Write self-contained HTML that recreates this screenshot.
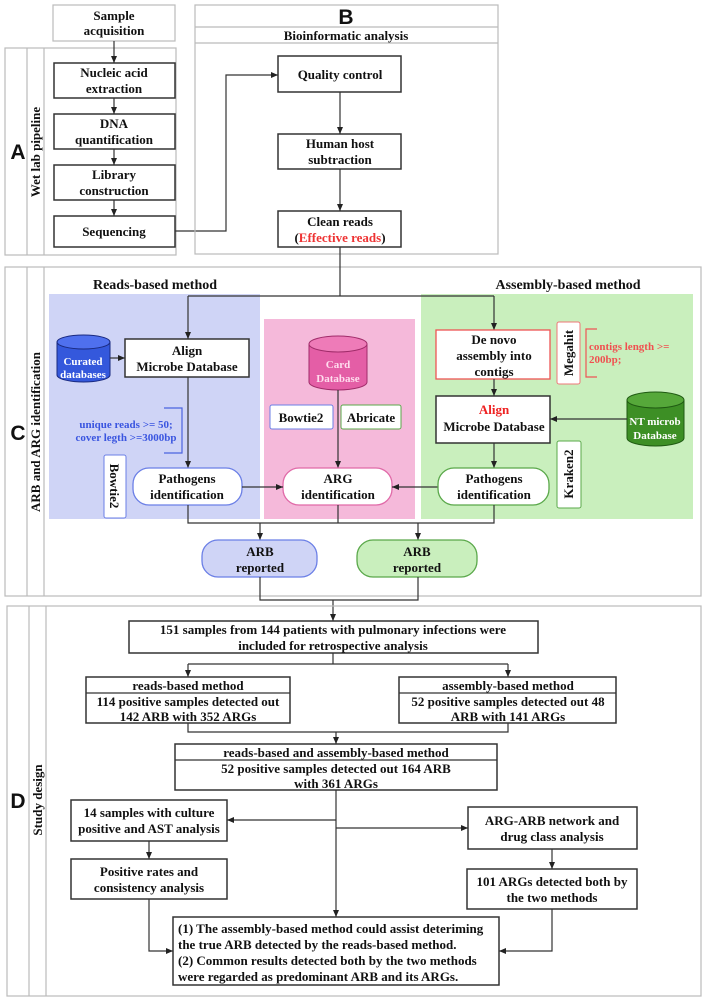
<!DOCTYPE html>
<html><head><meta charset="utf-8"><style>
html,body{margin:0;padding:0;background:#fff}
svg{display:block}
text{font-family:"Liberation Serif",serif;font-weight:bold;font-size:13px;fill:#111;text-anchor:middle}
.L{font-family:"Liberation Sans",sans-serif;font-size:21px}
.b{fill:#fff;stroke:#333;stroke-width:1.5}
.g{fill:none;stroke:#bbb;stroke-width:1.2}
.ln{fill:none;stroke:#333;stroke-width:1.2}
</style></head><body>
<svg width="703" height="1000" viewBox="0 0 703 1000" xmlns="http://www.w3.org/2000/svg">
<defs><marker id="a" markerWidth="8" markerHeight="8" refX="7" refY="4" orient="auto" markerUnits="userSpaceOnUse"><path d="M0,1 L7,4 L0,7z" fill="#222"/></marker></defs>

<!-- A -->
<rect x="53" y="5" width="122" height="36" class="g"/>
<text x="114" y="20">Sample</text><text x="114" y="35">acquisition</text>
<rect x="5" y="48" width="171" height="207" class="g"/>
<line x1="27" y1="48" x2="27" y2="255" class="g"/><line x1="44" y1="48" x2="44" y2="255" class="g"/>
<text class="L" x="18" y="159">A</text>
<text x="0" y="0" transform="translate(40,152) rotate(-90)">Wet lab pipeline</text>
<rect x="54" y="63" width="121" height="35" class="b"/><text x="114" y="77">Nucleic acid</text><text x="114" y="93">extraction</text>
<rect x="54" y="114" width="121" height="35" class="b"/><text x="114" y="128">DNA</text><text x="114" y="144">quantification</text>
<rect x="54" y="165" width="121" height="35" class="b"/><text x="114" y="179">Library</text><text x="114" y="195">construction</text>
<rect x="54" y="216" width="121" height="31" class="b"/><text x="114" y="236">Sequencing</text>
<line x1="114" y1="41" x2="114" y2="63" class="ln" marker-end="url(#a)"/>
<line x1="114" y1="98" x2="114" y2="114" class="ln" marker-end="url(#a)"/>
<line x1="114" y1="149" x2="114" y2="165" class="ln" marker-end="url(#a)"/>
<line x1="114" y1="200" x2="114" y2="216" class="ln" marker-end="url(#a)"/>
<path d="M175,231 H226 V75 H278" class="ln" marker-end="url(#a)"/>

<!-- B -->
<rect x="195" y="5" width="303" height="249" class="g"/>
<line x1="195" y1="27" x2="498" y2="27" class="g"/><line x1="195" y1="43" x2="498" y2="43" class="g"/>
<text class="L" x="346" y="24">B</text>
<text x="346" y="40">Bioinformatic analysis</text>
<rect x="278" y="56" width="123" height="36" class="b"/><text x="340" y="79">Quality control</text>
<rect x="278" y="134" width="123" height="35" class="b"/><text x="340" y="148">Human host</text><text x="340" y="164">subtraction</text>
<rect x="278" y="211" width="123" height="36" class="b"/><text x="340" y="226">Clean reads</text>
<text x="340" y="242">(<tspan fill="#e33">Effective reads</tspan>)</text>
<line x1="340" y1="92" x2="340" y2="134" class="ln" marker-end="url(#a)"/>
<line x1="340" y1="169" x2="340" y2="211" class="ln" marker-end="url(#a)"/>

<!-- C -->
<rect x="5" y="267" width="696" height="329" class="g"/>
<line x1="27" y1="267" x2="27" y2="596" class="g"/><line x1="44" y1="267" x2="44" y2="596" class="g"/>
<text class="L" x="18" y="440">C</text>
<text x="0" y="0" transform="translate(40,432) rotate(-90)">ARB and ARG identification</text>
<text x="155" y="289" style="font-size:14px">Reads-based method</text>
<text x="568" y="289" style="font-size:14px">Assembly-based method</text>
<rect x="49" y="294" width="211" height="225" fill="#cfd4f6"/>
<rect x="264" y="319" width="151" height="200" fill="#f5b9da"/>
<rect x="421" y="294" width="272" height="225" fill="#c9efbd"/>
<path d="M340,247 V296" class="ln"/>
<path d="M188,296 H494" class="ln"/>
<line x1="188" y1="296" x2="188" y2="339" class="ln" marker-end="url(#a)"/>
<line x1="494" y1="296" x2="494" y2="330" class="ln" marker-end="url(#a)"/>

<!-- curated cylinder -->
<path d="M57,342 V375 A26.5,7 0 0 0 110,375 V342" fill="#3458dc" stroke="#1a2a80"/>
<ellipse cx="83.5" cy="342" rx="26.5" ry="7" fill="#4f70ee" stroke="#1a2a80"/>
<text x="83" y="365" style="fill:#fff;font-size:11px">Curated</text><text x="83" y="378" style="fill:#fff;font-size:11px">databases</text>
<line x1="110" y1="358" x2="125" y2="358" class="ln" marker-end="url(#a)"/>
<rect x="125" y="339" width="124" height="38" class="b"/><text x="187" y="355">Align</text><text x="187" y="371">Microbe Database</text>
<line x1="188" y1="377" x2="188" y2="468" class="ln" marker-end="url(#a)"/>
<path d="M164,408 H182 V453 H164" fill="none" stroke="#4b63e0" stroke-width="1.2"/>
<text x="126" y="428" style="fill:#3a55e0;font-size:11px">unique reads &gt;= 50;</text>
<text x="126" y="441" style="fill:#3a55e0;font-size:11px">cover legth &gt;=3000bp</text>
<rect x="104" y="455" width="22" height="63" rx="2" fill="#fff" stroke="#6b7fe6"/>
<text x="0" y="0" transform="translate(110,486) rotate(90)">Bowtie2</text>
<rect x="133" y="468" width="109" height="37" rx="16" fill="#fff" stroke="#6b7fe6" stroke-width="1.3"/>
<text x="187" y="483">Pathogens</text><text x="187" y="499">identification</text>

<!-- card -->
<path d="M309,344 V382 A29,8 0 0 0 367,382 V344" fill="#e45ea6" stroke="#a02c6a"/>
<ellipse cx="338" cy="344" rx="29" ry="8" fill="#ee7bb8" stroke="#a02c6a"/>
<text x="338" y="368" style="fill:#fde;font-size:11px">Card</text><text x="338" y="382" style="fill:#fde;font-size:11px">Database</text>
<rect x="270" y="405" width="63" height="24" rx="2" fill="#fff" stroke="#6b7fe6"/><text x="301" y="422">Bowtie2</text>
<rect x="341" y="405" width="60" height="24" rx="2" fill="#fff" stroke="#5aa84a"/><text x="371" y="422">Abricate</text>
<line x1="338" y1="390" x2="338" y2="468" class="ln" marker-end="url(#a)"/>
<rect x="283" y="468" width="109" height="37" rx="16" fill="#fff" stroke="#e06aa8" stroke-width="1.3"/>
<text x="338" y="483">ARG</text><text x="338" y="499">identification</text>
<line x1="242" y1="487" x2="283" y2="487" class="ln" marker-end="url(#a)"/>
<line x1="438" y1="487" x2="392" y2="487" class="ln" marker-end="url(#a)"/>

<!-- assembly -->
<rect x="436" y="330" width="114" height="49" fill="#fff" stroke="#e55" stroke-width="1.3"/>
<text x="494" y="344">De novo</text><text x="494" y="360">assembly into</text><text x="494" y="376">contigs</text>
<rect x="557" y="322" width="23" height="62" rx="2" fill="#fff" stroke="#e77"/>
<text x="0" y="0" transform="translate(573,353) rotate(-90)">Megahit</text>
<path d="M597,329 H586 V377 H597" fill="none" stroke="#e55" stroke-width="1.2"/>
<text x="589" y="350" style="fill:#f05050;font-size:11px;text-anchor:start">contigs length &gt;=</text>
<text x="589" y="363" style="fill:#f05050;font-size:11px;text-anchor:start">200bp;</text>
<line x1="494" y1="379" x2="494" y2="396" class="ln" marker-end="url(#a)"/>
<rect x="436" y="396" width="114" height="47" class="b"/>
<text x="494" y="414" style="fill:#e22">Align</text><text x="494" y="431">Microbe Database</text>
<path d="M627,400 V438 A28.5,8 0 0 0 684,438 V400" fill="#3d8f25" stroke="#1f5a12"/>
<ellipse cx="655.5" cy="400" rx="28.5" ry="8" fill="#56a83a" stroke="#1f5a12"/>
<text x="655" y="425" style="fill:#fff;font-size:11px">NT microb</text><text x="655" y="439" style="fill:#fff;font-size:11px">Database</text>
<line x1="627" y1="419" x2="550" y2="419" class="ln" marker-end="url(#a)"/>
<rect x="557" y="441" width="24" height="67" rx="2" fill="#fff" stroke="#5aa84a"/>
<text x="0" y="0" transform="translate(573,474) rotate(-90)">Kraken2</text>
<line x1="494" y1="443" x2="494" y2="468" class="ln" marker-end="url(#a)"/>
<rect x="438" y="468" width="111" height="37" rx="16" fill="#fff" stroke="#5aa84a" stroke-width="1.3"/>
<text x="494" y="483">Pathogens</text><text x="494" y="499">identification</text>

<path d="M188,505 V523 H494 V505" class="ln"/>
<line x1="338" y1="505" x2="338" y2="523" class="ln"/>
<line x1="260" y1="523" x2="260" y2="540" class="ln" marker-end="url(#a)"/>
<line x1="418" y1="523" x2="418" y2="540" class="ln" marker-end="url(#a)"/>
<rect x="202" y="540" width="115" height="37" rx="16" fill="#cfd4f6" stroke="#6b7fe6" stroke-width="1.3"/>
<text x="260" y="556">ARB</text><text x="260" y="572">reported</text>
<rect x="357" y="540" width="120" height="37" rx="16" fill="#c9efbd" stroke="#5aa84a" stroke-width="1.3"/>
<text x="417" y="556">ARB</text><text x="417" y="572">reported</text>
<path d="M260,577 V600 H418 V577" class="ln"/>
<line x1="333" y1="600" x2="333" y2="621" class="ln" marker-end="url(#a)"/>

<!-- D -->
<rect x="7" y="606" width="694" height="390" class="g"/>
<line x1="29" y1="606" x2="29" y2="996" class="g"/><line x1="46" y1="606" x2="46" y2="996" class="g"/>
<text class="L" x="18" y="808">D</text>
<text x="0" y="0" transform="translate(42,800) rotate(-90)">Study design</text>
<rect x="129" y="621" width="409" height="32" class="b"/>
<text x="333" y="634">151 samples from 144 patients with pulmonary infections were</text>
<text x="333" y="650">included for retrospective analysis</text>
<path d="M333,653 V664 M188,664 H508" class="ln"/>
<line x1="188" y1="664" x2="188" y2="677" class="ln" marker-end="url(#a)"/>
<line x1="508" y1="664" x2="508" y2="677" class="ln" marker-end="url(#a)"/>
<rect x="86" y="677" width="204" height="46" class="b"/><line x1="86" y1="693" x2="290" y2="693" class="ln"/>
<text x="188" y="690">reads-based method</text><text x="188" y="706">114 positive samples detected out</text><text x="188" y="721">142 ARB with 352 ARGs</text>
<rect x="399" y="677" width="217" height="46" class="b"/><line x1="399" y1="693" x2="616" y2="693" class="ln"/>
<text x="508" y="690">assembly-based method</text><text x="508" y="706">52 positive samples detected out 48</text><text x="508" y="721">ARB with 141 ARGs</text>
<path d="M188,723 V732 H508 V723" class="ln"/>
<line x1="336" y1="732" x2="336" y2="744" class="ln" marker-end="url(#a)"/>
<rect x="175" y="744" width="322" height="46" class="b"/><line x1="175" y1="760" x2="497" y2="760" class="ln"/>
<text x="336" y="757">reads-based and assembly-based method</text><text x="336" y="773">52 positive samples detected out 164 ARB</text><text x="336" y="788">with 361 ARGs</text>
<line x1="336" y1="790" x2="336" y2="917" class="ln" marker-end="url(#a)"/>
<line x1="336" y1="820" x2="227" y2="820" class="ln" marker-end="url(#a)"/>
<line x1="336" y1="828" x2="468" y2="828" class="ln" marker-end="url(#a)"/>
<rect x="71" y="800" width="156" height="41" class="b"/><text x="149" y="817">14 samples with culture</text><text x="149" y="833">positive and AST analysis</text>
<line x1="149" y1="841" x2="149" y2="859" class="ln" marker-end="url(#a)"/>
<rect x="71" y="859" width="156" height="40" class="b"/><text x="149" y="876">Positive rates and</text><text x="149" y="892">consistency analysis</text>
<rect x="468" y="807" width="169" height="42" class="b"/><text x="552" y="825">ARG-ARB network and</text><text x="552" y="841">drug class analysis</text>
<line x1="552" y1="849" x2="552" y2="869" class="ln" marker-end="url(#a)"/>
<rect x="467" y="869" width="170" height="40" class="b"/><text x="552" y="886">101 ARGs detected both by</text><text x="552" y="902">the two methods</text>
<path d="M149,899 V951 H173" class="ln" marker-end="url(#a)"/>
<path d="M552,909 V951 H499" class="ln" marker-end="url(#a)"/>
<rect x="173" y="917" width="326" height="68" class="b"/>
<g style="text-anchor:start">
<text x="178" y="933" style="text-anchor:start">(1) The assembly-based method could assist deteriming</text>
<text x="178" y="949" style="text-anchor:start">the true ARB detected by the reads-based method.</text>
<text x="178" y="965" style="text-anchor:start">(2) Common results detected both by the two methods</text>
<text x="178" y="981" style="text-anchor:start">were regarded as predominant ARB and its ARGs.</text>
</g>
</svg>
</body></html>
